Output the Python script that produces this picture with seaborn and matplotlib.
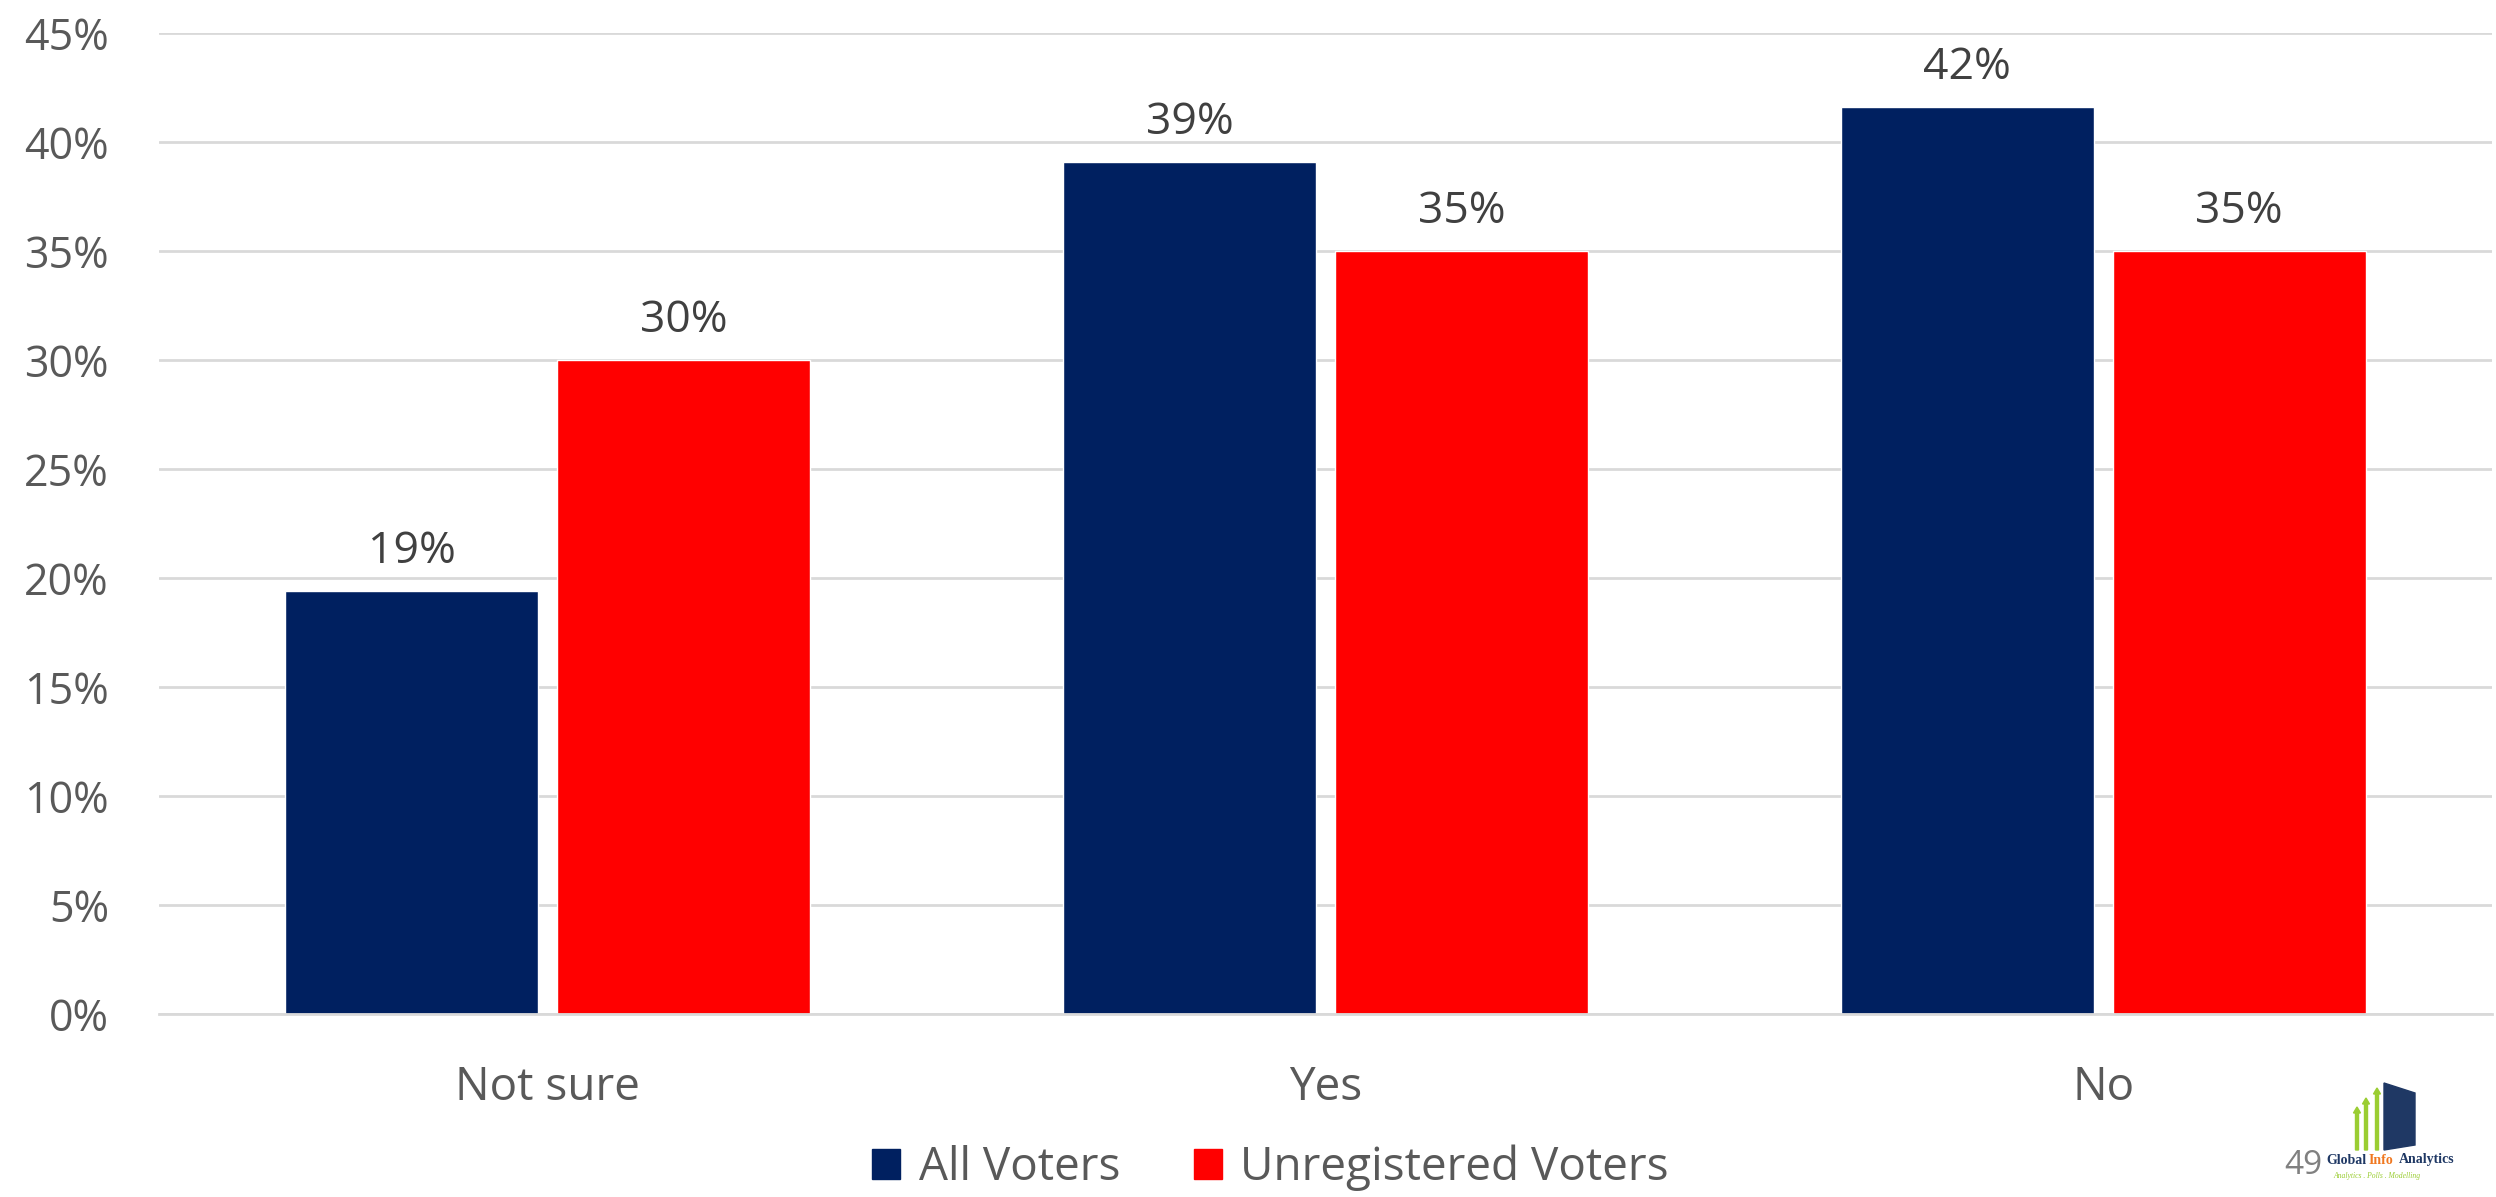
import pandas as pd
import numpy as np
import matplotlib
matplotlib.use('Agg')
import matplotlib.pyplot as plt
import seaborn as sns
from matplotlib.patches import Polygon, FancyArrow

# ── Data ───────────────────────────────────────────────────────────────────
categories = ['Not sure', 'Yes', 'No']
all_voters = [19.4, 39.1, 41.6]
unregistered_voters = [30.0, 35.0, 35.0]
series_names = ['All Voters', 'Unregistered Voters']
y_ticks = [0, 5, 10, 15, 20, 25, 30, 35, 40, 45]

NAVY = '#002060'
RED = '#FF0000'
GRID = '#D9D9D9'
TXT = '#595959'

df = pd.DataFrame({
    'category': categories * 2,
    'value': all_voters + unregistered_voters,
    'series': [series_names[0]] * 3 + [series_names[1]] * 3,
})

sns.set_theme(style='white')
plt.rcParams['font.family'] = ['Open Sans', 'DejaVu Sans']

fig = plt.figure(figsize=(24.96, 11.97), dpi=100)
ax = fig.add_axes([159 / 2496, 1 - 1014 / 1197, (2492 - 159) / 2496, (1014 - 33) / 1197])

sns.barplot(data=df, x='category', y='value', hue='series', order=categories,
            hue_order=series_names, palette=[NAVY, RED], width=0.7, gap=0.07,
            saturation=1, ax=ax, legend=False)

ax.set_xlim(-0.5, 2.5)
ax.set_ylim(0, 45)
ax.set_yticks(y_ticks)
ax.set_yticklabels([f'{t}%' for t in y_ticks])
ax.yaxis.grid(True, color=GRID, linewidth=2)
ax.set_axisbelow(True)
for s in ['top', 'right', 'left']:
    ax.spines[s].set_visible(False)
ax.spines['bottom'].set_color(GRID)
ax.spines['bottom'].set_linewidth(2)
ax.tick_params(axis='y', length=0, pad=36, labelsize=31, labelcolor=TXT)
ax.tick_params(axis='x', length=0, pad=37, labelsize=33, labelcolor=TXT)
ax.set_xlabel('')
ax.set_ylabel('')

# data labels
for cont in ax.containers:
    vals = [b.get_height() for b in cont]
    ax.bar_label(cont, labels=[f'{round(v)}%' for v in vals], padding=12,
                 fontsize=32, color='#404040')

# legend
handles = [plt.Rectangle((0, 0), 1, 1, color=NAVY), plt.Rectangle((0, 0), 1, 1, color=RED)]
fig.legend(handles, series_names, loc='center', bbox_to_anchor=(0.509, 1 - 1168 / 1197),
           ncol=2, frameon=False, fontsize=33, labelcolor=TXT, handlelength=0.62,
           handleheight=0.62, handletextpad=0.4, columnspacing=1.6)

# logo + page number
lg = fig.add_axes([2280 / 2496, 0, 216 / 2496, 120 / 1197])
lg.set_xlim(2280, 2496)
lg.set_ylim(1197, 1077)
lg.axis('off')
lg.add_patch(Polygon([(2384, 1083), (2415, 1093), (2415, 1145), (2384, 1150)], color='#1F3864'))
for x0, top in [(2357, 1107), (2366, 1098), (2377, 1088)]:
    lg.add_patch(FancyArrow(x0, 1150, 0, top - 1150, width=3, head_width=7,
                            head_length=6, color='#9ACD32', length_includes_head=True))
lg.text(2322, 1165, '49', fontsize=24, color='#808080', ha='right', va='center')
lg.text(2326, 1160, 'Global', fontsize=10, color='#1F3864', ha='left', va='center',
        family='Liberation Serif', weight='bold')
lg.text(2369, 1160, 'Info', fontsize=10, color='#F07820', ha='left', va='center',
        family='Liberation Serif', weight='bold')
lg.text(2399, 1160, 'Analytics', fontsize=10, color='#1F3864', ha='left', va='center',
        family='Liberation Serif', weight='bold')
lg.text(2333, 1176, 'Analytics . Polls . Modelling', fontsize=5.5, color='#9ACD32',
        ha='left', va='center', style='italic', family='Liberation Serif')

fig.savefig('out.png', dpi=100)
